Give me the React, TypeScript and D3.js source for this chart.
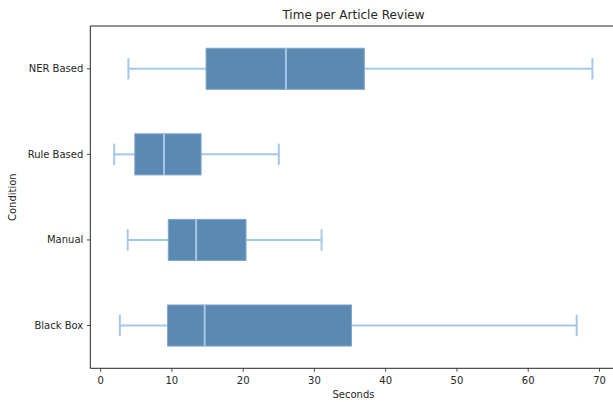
import React from "react";
import * as d3 from "d3";

const categories = ["Black Box", "Manual", "Rule Based", "NER Based"];
const whiskerLow = [2.7, 3.8, 1.9, 3.9];
const q1 = [9.4, 9.5, 4.8, 14.8];
const median = [14.6, 13.4, 8.9, 26.0];
const q3 = [35.2, 20.4, 14.1, 37.0];
const whiskerHigh = [66.8, 31.0, 25.0, 69.0];
const xTicks = [0, 10, 20, 30, 40, 50, 60, 70];

const W = 613;
const H = 402;
const left = 90.3;
const top = 26;
const bottom = 368.3;

const BOX = "#5a89b4";
const LIGHT = "#a7c7e7";
const TEXT = "#262626";

export default function App() {
  const x = d3.scaleLinear().domain([0, 70]).range([100.6, 599.5]);
  const y = d3.scaleLinear().domain([0.5, 4.5]).range([bottom, top]);
  const right = x(72.4);
  const unit = Math.abs(y(1) - y(0));
  const halfBox = unit * 0.24;
  const halfCap = unit * 0.125;
  const font = "DejaVu Sans, sans-serif";

  return (
    <svg
      width={W}
      height={H}
      style={{ position: "absolute", left: 0, top: 0, display: "block", background: "#fff" }}
      fontFamily={font}
    >
      <text x={(left + right) / 2} y={19} textAnchor="middle" fontSize={12} fill={TEXT}>
        Time per Article Review
      </text>
      {categories.map((c, i) => {
        const cy = y(i + 1);
        return (
          <g key={c}>
            <line x1={x(whiskerLow[i])} x2={x(q1[i])} y1={cy} y2={cy} stroke={LIGHT} strokeWidth={2} />
            <line x1={x(q3[i])} x2={x(whiskerHigh[i])} y1={cy} y2={cy} stroke={LIGHT} strokeWidth={2} />
            <line x1={x(whiskerLow[i])} x2={x(whiskerLow[i])} y1={cy - halfCap} y2={cy + halfCap} stroke={LIGHT} strokeWidth={2} />
            <line x1={x(whiskerHigh[i])} x2={x(whiskerHigh[i])} y1={cy - halfCap} y2={cy + halfCap} stroke={LIGHT} strokeWidth={2} />
            <rect
              x={x(q1[i])}
              y={cy - halfBox}
              width={x(q3[i]) - x(q1[i])}
              height={2 * halfBox}
              fill={BOX}
              stroke="#7fa5cb"
              strokeWidth={1}
            />
            <line x1={x(median[i])} x2={x(median[i])} y1={cy - halfBox} y2={cy + halfBox} stroke={LIGHT} strokeWidth={2} />
            <line x1={left - 3.5} x2={left} y1={cy} y2={cy} stroke={TEXT} strokeWidth={0.8} />
            <text x={left - 7} y={cy} dy="0.35em" textAnchor="end" fontSize={10} fill={TEXT}>
              {c}
            </text>
          </g>
        );
      })}
      {xTicks.map((t) => (
        <g key={t}>
          <line x1={x(t)} x2={x(t)} y1={bottom} y2={bottom + 3.5} stroke={TEXT} strokeWidth={0.8} />
          <text x={x(t)} y={bottom + 16} textAnchor="middle" fontSize={10} fill={TEXT}>
            {t}
          </text>
        </g>
      ))}
      <line x1={left} x2={right} y1={top} y2={top} stroke={TEXT} strokeWidth={1} />
      <line x1={left} x2={right} y1={bottom} y2={bottom} stroke={TEXT} strokeWidth={1} />
      <line x1={left} x2={left} y1={top} y2={bottom} stroke={TEXT} strokeWidth={1} />
      <line x1={right} x2={right} y1={top} y2={bottom} stroke={TEXT} strokeWidth={1} />
      <text x={(left + right) / 2} y={398} textAnchor="middle" fontSize={10} fill={TEXT}>
        Seconds
      </text>
      <text
        transform={`translate(16, ${(top + bottom) / 2}) rotate(-90)`}
        textAnchor="middle"
        fontSize={10}
        fill={TEXT}
      >
        Condition
      </text>
    </svg>
  );
}
